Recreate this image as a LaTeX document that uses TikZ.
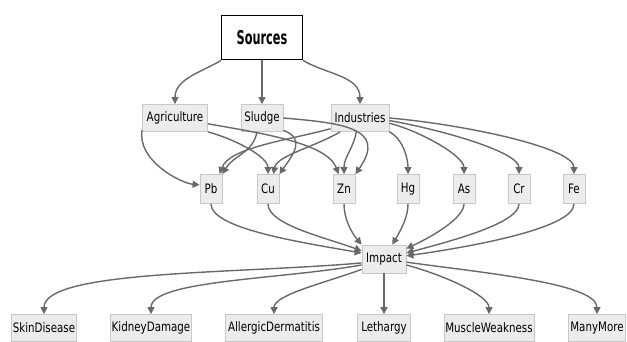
\documentclass[tikz,border=0pt]{standalone}
\usepackage{fontspec}
\setmainfont{DejaVu Sans Condensed}
\newfontfamily\boxfont{DejaVu Sans Condensed}[FakeStretch=0.88]
\newfontfamily\srcfont{DejaVu Sans Condensed Bold}[FakeStretch=0.66]
\usepackage{tikz}
\usetikzlibrary{shapes,arrows,arrows.meta}
\definecolor{BoxFill}{RGB}{236,236,236}
\definecolor{BoxLine}{RGB}{200,200,200}
\definecolor{EdgeGray}{RGB}{105,105,105}

\begin{document}
\begin{tikzpicture}[x=1pt,y=-1pt]
		\tikzstyle{box}=[draw=BoxLine, fill=BoxFill, line width=0.8pt, shape=rectangle, inner xsep=1pt, inner ysep=2pt, minimum height=27pt, font=\boxfont\fontsize{13}{15}\selectfont];
		\tikzstyle{metal}=[box, minimum width=22pt, minimum height=29pt];
		\tikzstyle{edge}=[-{Triangle[length=7pt,width=7pt]}, draw=EdgeGray, line width=1.4pt];
		\useasboundingbox (0,0) rectangle (627,342);
		\node [draw=black, fill=white, line width=1pt, minimum width=81pt, minimum height=44pt, font=\srcfont\fontsize{19}{21}\selectfont] (src) at (262,38) {Sources};
		\node [box, minimum width=65pt] (agr) at (175,118) {Agriculture};
		\node [box, minimum width=42pt] (slg) at (262,118) {Sludge};
		\node [box, minimum width=58pt] (ind) at (360,118) {Industries};
		\node [metal] (pb) at (211,189) {Pb};
		\node [metal] (cu) at (268,189) {Cu};
		\node [metal] (zn) at (344,189) {Zn};
		\node [metal] (hg) at (408,189) {Hg};
		\node [metal] (as) at (464,189) {As};
		\node [metal] (cr) at (519,189) {Cr};
		\node [metal] (fe) at (574,189) {Fe};
		\node [box, minimum width=44pt, minimum height=28pt] (imp) at (384,259) {Impact};
		\node [box, minimum width=65pt] (skin) at (44,328) {SkinDisease};
		\node [box, minimum width=81pt] (kid) at (151,328) {KidneyDamage};
		\node [box, minimum width=97pt] (all) at (274,328) {AllergicDermatitis};
		\node [box, minimum width=53pt] (let) at (384,328) {Lethargy};
		\node [box, minimum width=90pt] (mus) at (489,328) {MuscleWeakness};
		\node [box, minimum width=57pt] (many) at (597,328) {ManyMore};
		\draw[edge] (src.south west) to[out=-150, in=90] (agr);
		\draw[edge] (src) -- (slg);
		\draw[edge] (src.south east) to[out=-30, in=90] (ind);
		\draw[edge] (agr.200) to[out=-100, in=175, in looseness=0.6] (pb.160);
		\draw[edge] (agr.south east) to[out=-15, in=90, in looseness=0.6] (cu);
		\draw[edge] (agr.-10) to[out=-10, in=110, in looseness=0.6] (zn.110);
		\draw[edge] (slg.-110) to[out=-100, in=60] (pb.north east);
		\draw[edge] (slg.-30) to[out=-20, in=55, looseness=1.4] (cu.north east);
		\draw[edge] (slg.east) to[out=-5, in=55, looseness=1.6] (zn.north east);
		\draw[edge] (ind.200) to[out=-165, in=70, in looseness=0.6] (pb.60);
		\draw[edge] (ind.215) to[out=-150, in=80, in looseness=0.6] (cu.70);
		\draw[edge] (ind.-105) to[out=-100, in=90] (zn);
		\draw[edge] (ind.-25) to[out=-30, in=90, in looseness=0.7] (hg);
		\draw[edge] (ind.-10) to[out=-15, in=90, in looseness=0.5] (as);
		\draw[edge] (ind.-5) to[out=-10, in=90, in looseness=0.4] (cr);
		\draw[edge] (ind.east) to[out=-5, in=90, in looseness=0.35] (fe);
		\draw[edge] (pb) to[out=-90, in=170, out looseness=0.4] (imp.165);
		\draw[edge] (cu) to[out=-90, in=160, out looseness=0.5] (imp.160);
		\draw[edge] (zn) to[out=-90, in=130, out looseness=0.8] (imp.north west);
		\draw[edge] (hg) to[out=-90, in=60, out looseness=0.8] (imp.60);
		\draw[edge] (as) to[out=-90, in=25, out looseness=0.5] (imp.25);
		\draw[edge] (cr) to[out=-90, in=15, out looseness=0.4] (imp.15);
		\draw[edge] (fe) to[out=-90, in=8, out looseness=0.35] (imp.8);
		\draw[edge] (imp.190) to[out=185, in=90, in looseness=0.35] (skin);
		\draw[edge] (imp.195) to[out=190, in=90, in looseness=0.4] (kid);
		\draw[edge] (imp.205) to[out=200, in=90, in looseness=0.5] (all);
		\draw[edge] (imp) -- (let);
		\draw[edge] (imp.-15) to[out=-15, in=90, in looseness=0.5] (mus);
		\draw[edge] (imp.-8) to[out=-8, in=90, in looseness=0.4] (many);
	\end{tikzpicture}
\end{document}
